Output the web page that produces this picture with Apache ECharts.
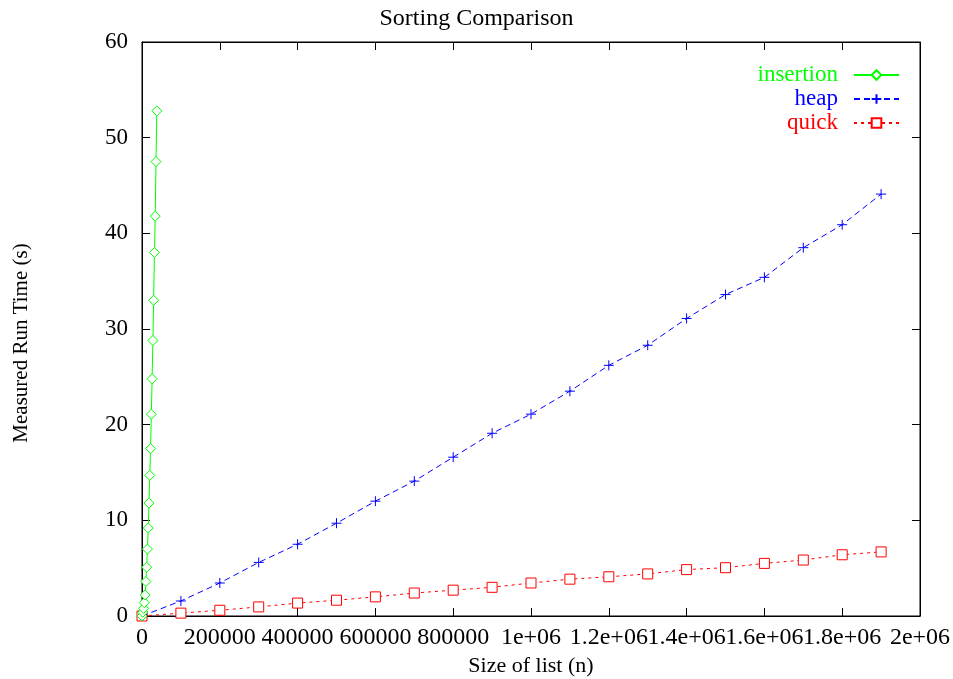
<!DOCTYPE html>
<html>
<head>
<meta charset="utf-8">
<script src="https://cdn.jsdelivr.net/npm/echarts@6/dist/echarts.min.js"></script>
<style>html,body{margin:0;padding:0;background:#fff;}#c{width:953px;height:679px;}</style>
</head>
<body>
<div id="c"></div>
<script>
var insertionN = [0,2000,4000,6000,8000,10000,12000,14000,16000,18000,20000,22000,24000,26000,28000,30000,32000,34000,36000,38000];
var insertionT = [0,0.4,0.8,1.4,2.2,3.6,5.1,7.0,9.2,11.8,14.7,17.5,21.1,24.8,28.8,33.0,38.0,41.8,47.5,52.8];
var sizeN = [0,100000,200000,300000,400000,500000,600000,700000,800000,900000,1000000,1100000,1200000,1300000,1400000,1500000,1600000,1700000,1800000,1900000];
var heapT = [0,1.57,3.45,5.6,7.5,9.7,12.0,14.1,16.6,19.1,21.1,23.5,26.2,28.3,31.1,33.6,35.4,38.5,40.9,44.1];
var quickT = [0,0.3,0.6,0.95,1.35,1.65,2.0,2.4,2.7,3.0,3.45,3.85,4.1,4.4,4.85,5.05,5.5,5.85,6.4,6.7];
var seriesNames = ['insertion','heap','quick'];
var titleText = 'Sorting Comparison';
var xTitle = 'Size of list (n)';
var yTitle = 'Measured Run Time (s)';

function pairs(xs, ys){ return xs.map(function(x,i){return [x, ys[i]];}); }
function fmtX(v){
  if (v === 0) return '0';
  if (v >= 1e6) return (Math.round(v/1e5)/10) + 'e+06';
  return String(v);
}
var FONT = 'Liberation Serif';
var chart = echarts.init(document.getElementById('c'), null, {renderer:'canvas'});
var plus = 'path://M0,5L10,5M5,0L5,10';
var axisCommon = {
  axisLine:{show:true, onZero:false, lineStyle:{color:'#000', width:1}},
  axisTick:{show:true, inside:true, length:8, lineStyle:{color:'#000'}},
  splitLine:{show:false}
};
chart.setOption({
  backgroundColor:'#fff',
  animation:false,
  title:{text:titleText, left:'center', top:2, textStyle:{fontFamily:FONT, fontWeight:'normal', fontSize:24, color:'#000'}},
  grid:{left:142, right:33, top:42, bottom:63, show:true, borderColor:'#000', borderWidth:1, outerBoundsMode:'none', containLabel:false},
  legend:{
    right:53, top:63, orient:'vertical', align:'right', itemWidth:45, itemHeight:12, itemGap:0, padding:0,
    data:[
      {name:'insertion', textStyle:{color:'#00ff00'}},
      {name:'heap', textStyle:{color:'#0000ff'}},
      {name:'quick', textStyle:{color:'#ff0000'}}
    ],
    textStyle:{fontFamily:FONT, fontSize:23, lineHeight:24, padding:[0,11,0,0]}
  },
  xAxis:[
    Object.assign({type:'value', min:0, max:2000000, interval:200000, position:'bottom',
      name:xTitle, nameLocation:'middle', nameGap:38,
      nameTextStyle:{fontFamily:FONT, fontSize:22, color:'#000'},
      axisLabel:{formatter:fmtX, fontFamily:FONT, fontSize:24, color:'#000', margin:10}}, axisCommon),
    Object.assign({type:'value', min:0, max:2000000, interval:200000, position:'top',
      axisLabel:{show:false}}, axisCommon)
  ],
  yAxis:[
    Object.assign({type:'value', min:0, max:60, interval:10, position:'left',
      name:yTitle, nameLocation:'middle', nameGap:110, nameRotate:90,
      nameTextStyle:{fontFamily:FONT, fontSize:21, color:'#000', padding:[0,28,0,0]},
      axisLabel:{fontFamily:FONT, fontSize:23, color:'#000', margin:14}}, axisCommon),
    Object.assign({type:'value', min:0, max:60, interval:10, position:'right',
      axisLabel:{show:false}}, axisCommon)
  ],
  series:[
    {name:'insertion', type:'line', data:pairs(insertionN, insertionT),
     symbol:'diamond', symbolSize:10, showAllSymbol:true,
     itemStyle:{color:'#ffffff', borderColor:'#00ff00', borderWidth:1},
     lineStyle:{color:'#00ff00', width:1, type:'solid'}, z:3},
    {name:'heap', type:'line', data:pairs(sizeN, heapT),
     symbol:plus, symbolSize:10, showAllSymbol:true,
     itemStyle:{color:'#0000ff', borderColor:'#0000ff', borderWidth:1},
     lineStyle:{color:'#0000ff', width:1, type:[6,4]}, z:2},
    {name:'quick', type:'line', data:pairs(sizeN, quickT),
     symbol:'rect', symbolSize:10, showAllSymbol:true,
     itemStyle:{color:'#ffffff', borderColor:'#ff0000', borderWidth:1},
     lineStyle:{color:'#ff0000', width:1, type:[3,4]}, z:1}
  ]
});
</script>
</body>
</html>
